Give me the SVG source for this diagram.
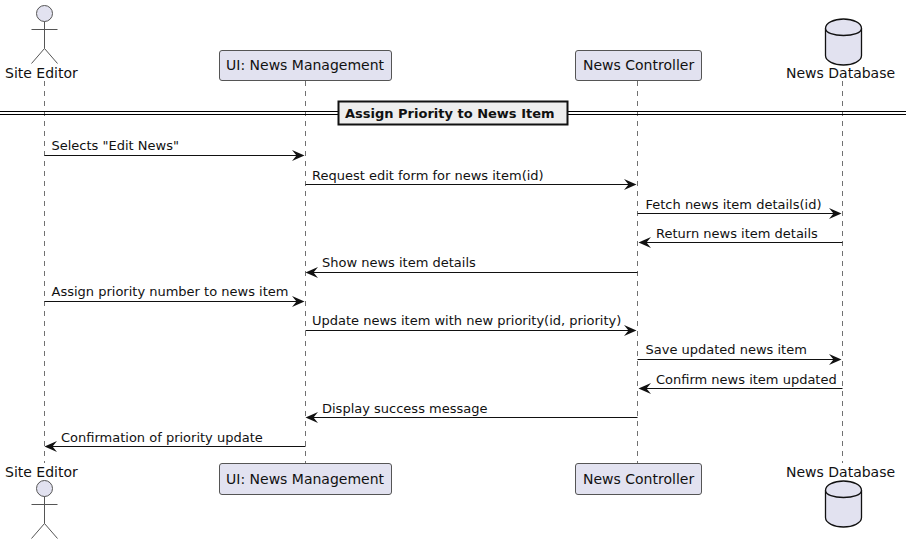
<svg xmlns="http://www.w3.org/2000/svg" width="912" height="544" viewBox="0 0 912 544">
<style>
text{font-family:"DejaVu Sans",sans-serif;font-size:13px;fill:#111}
.n{font-size:14px}
.life{stroke:#333;stroke-width:.7;stroke-dasharray:5 5;fill:none}
.box{fill:#E2E2F0;stroke:#555;stroke-width:1}
.act{fill:#E2E2F0;stroke:#555;stroke-width:1}
.db{fill:#E2E2F0;stroke:#111;stroke-width:1.300}
.msg{stroke:#111;stroke-width:1.200;fill:none}
.head{fill:#111}
</style>
<defs>
<path id="ar" d="M0 0L-12.500 -5.500L-8 0L-12.500 5.500Z"/>
<path id="al" d="M0 0L12.500 -5.500L8 0L12.500 5.500Z"/>
<g id="actor"><circle cx="44.500" cy="13.500" r="8" class="act"/><path class="act" style="fill:none" d="M44.500 21.500V48.500M31.500 29.500H57.500M44.500 48.500L31.500 63.500M44.500 48.500L57.500 63.500"/></g>
<g id="cyl"><path class="db" d="M825.500 28.500C825.500 23 834 19 843.500 19C853 19 861.500 23 861.500 28.500V55.500C861.500 61 853 65 843.500 65C834 65 825.500 61 825.500 55.500Z"/><path class="db" style="fill:none" d="M825.500 28.500C825.500 33 834 35.500 843.500 35.500C853 35.500 861.500 33 861.500 28.500"/></g>
</defs>
<g id="lifelines">
<line class="life" x1="44.500" y1="81" x2="44.500" y2="463"/>
<line class="life" x1="305.500" y1="81" x2="305.500" y2="463"/>
<line class="life" x1="637.500" y1="81" x2="637.500" y2="463"/>
<line class="life" x1="842.500" y1="81" x2="842.500" y2="463"/>
</g>
<g id="divider">
<line x1="0" y1="111.500" x2="906" y2="111.500" stroke="#000" stroke-width="1"/>
<line x1="0" y1="114.500" x2="906" y2="114.500" stroke="#000" stroke-width="1"/>
<rect x="338.500" y="101.500" width="229" height="23" fill="#EEEEEE" stroke="#111" stroke-width="2"/>
<text x="345" y="117.500" font-weight="700">Assign Priority to News Item</text>
</g>
<g id="site-editor-top"><use href="#actor"/><text class="n" x="5" y="78">Site Editor</text></g>
<g id="ui-top"><rect class="box" x="219.500" y="50.500" width="172" height="30" rx="2.500"/><text class="n" x="226" y="70">UI: News Management</text></g>
<g id="controller-top"><rect class="box" x="575.500" y="50.500" width="126" height="30" rx="2.500"/><text class="n" x="583" y="70">News Controller</text></g>
<g id="database-top"><use href="#cyl"/><text class="n" x="786" y="78">News Database</text></g>
<g id="site-editor-bottom"><use href="#actor" y="475"/><text class="n" x="5" y="477">Site Editor</text></g>
<g id="ui-bottom"><rect class="box" x="219.500" y="463.500" width="172" height="31" rx="2.500"/><text class="n" x="226" y="484">UI: News Management</text></g>
<g id="controller-bottom"><rect class="box" x="575.500" y="463.500" width="126" height="31" rx="2.500"/><text class="n" x="583" y="484">News Controller</text></g>
<g id="database-bottom"><use href="#cyl" y="462"/><text class="n" x="786" y="477">News Database</text></g>
<g id="connectors">
<line class="msg" x1="44.500" y1="155.500" x2="297" y2="155.500"/><use class="head" href="#ar" x="304.500" y="155.500"/><text x="51.500" y="150">Selects "Edit News"</text>
<line class="msg" x1="305.500" y1="184.500" x2="629" y2="184.500"/><use class="head" href="#ar" x="636.500" y="184.500"/><text x="312" y="180">Request edit form for news item(id)</text>
<line class="msg" x1="637.500" y1="213.500" x2="834" y2="213.500"/><use class="head" href="#ar" x="841.500" y="213.500"/><text x="645.500" y="209">Fetch news item details(id)</text>
<line class="msg" x1="646" y1="242.500" x2="842.500" y2="242.500"/><use class="head" href="#al" x="638.500" y="242.500"/><text x="656" y="238">Return news item details</text>
<line class="msg" x1="313" y1="272.500" x2="637.500" y2="272.500"/><use class="head" href="#al" x="305.500" y="272.500"/><text x="322" y="267">Show news item details</text>
<line class="msg" x1="44.500" y1="301.500" x2="297" y2="301.500"/><use class="head" href="#ar" x="304.500" y="301.500"/><text x="51.500" y="296">Assign priority number to news item</text>
<line class="msg" x1="305.500" y1="330.500" x2="629" y2="330.500"/><use class="head" href="#ar" x="636.500" y="330.500"/><text x="312" y="325">Update news item with new priority(id, priority)</text>
<line class="msg" x1="637.500" y1="359.500" x2="834" y2="359.500"/><use class="head" href="#ar" x="841.500" y="359.500"/><text x="645.500" y="354">Save updated news item</text>
<line class="msg" x1="646" y1="388.500" x2="842.500" y2="388.500"/><use class="head" href="#al" x="638.500" y="388.500"/><text x="656" y="384">Confirm news item updated</text>
<line class="msg" x1="313" y1="417.500" x2="637.500" y2="417.500"/><use class="head" href="#al" x="305.500" y="417.500"/><text x="322" y="413">Display success message</text>
<line class="msg" x1="52" y1="446.500" x2="305.500" y2="446.500"/><use class="head" href="#al" x="44.500" y="446.500"/><text x="61" y="442">Confirmation of priority update</text>
</g>
</svg>
